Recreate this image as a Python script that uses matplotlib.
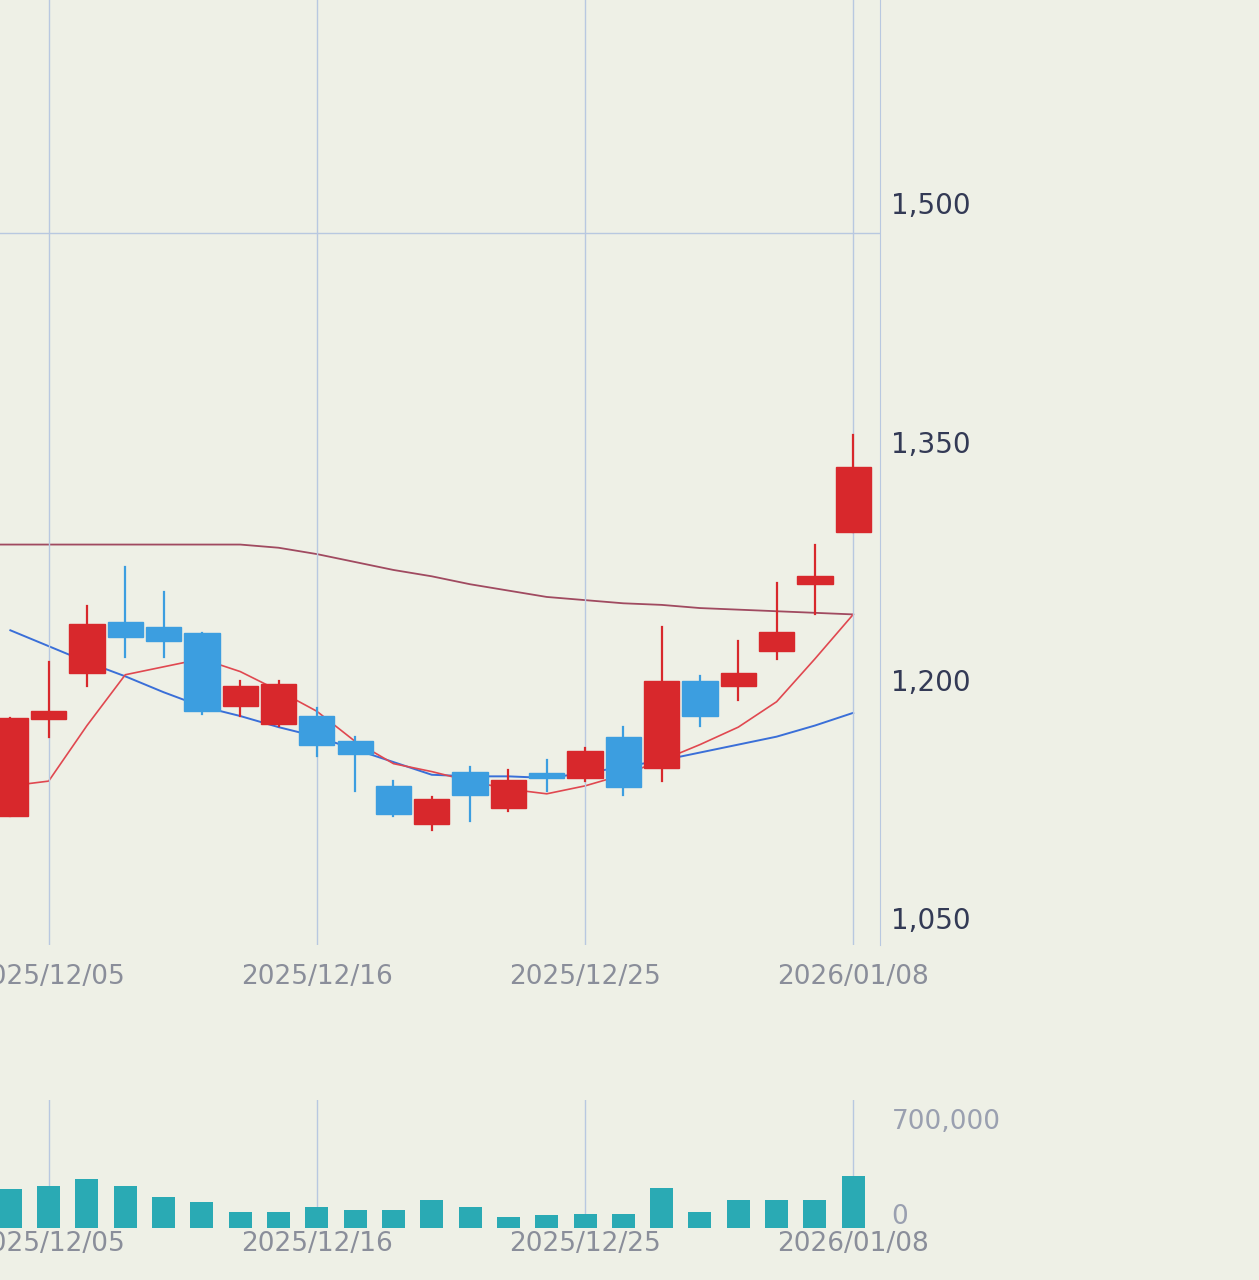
import matplotlib
matplotlib.use("Agg")
import matplotlib.pyplot as plt
from matplotlib.patches import Rectangle

dates = ["12/04","2025/12/05","12/08","12/09","12/10","12/11","12/12","12/15","2025/12/16","12/17","12/18","12/19","12/22","12/23","12/24","2025/12/25","12/26","12/29","12/30","01/05","01/06","01/07","2026/01/08"]
opens  = [1116,1177,1206,1238,1235,1231,1185,1174,1179,1163,1135,1111,1144,1121,1143,1140,1166,1146,1201,1198,1220,1262,1295]
closes = [1178,1182,1237,1229,1226,1182,1198,1199,1161,1155,1117,1127,1129,1139,1140,1157,1134,1201,1179,1206,1232,1267,1336]
highs  = [1178,1213,1248,1273,1257,1231,1201,1201,1184,1166,1138,1128,1147,1145,1151,1159,1172,1235,1204,1226,1263,1287,1356]
lows   = [1116,1166,1198,1216,1216,1180,1179,1173,1154,1132,1116,1107,1113,1119,1132,1138,1129,1138,1173,1189,1215,1243,1295]
ma_short = [1135,1138,1173,1205,1210,1215,1207,1195,1182,1163,1149,1144,1138,1133,1130,1135,1142,1151,1161,1172,1188,1215,1243]
ma_mid   = [1233,1223,1213,1204,1194,1185,1179,1172,1166,1158,1150,1142,1141,1141,1140,1143,1147,1151,1156,1161,1166,1173,1181]
ma_long  = [1287,1287,1287,1287,1287,1287,1287,1285,1281,1276,1271,1267,1262,1258,1254,1252,1250,1249,1247,1246,1245,1244,1243]
volumes  = [324000,350000,411000,350000,262000,219000,131000,131000,175000,149000,149000,236000,175000,88000,105000,114000,114000,333000,131000,236000,236000,236000,438000]
price_ticks = [1050,1200,1350,1500]
tick_idx = [1,8,15,22]

bg = "#eef0e6"
red = "#d8282c"; blue = "#3c9ee0"; teal = "#2aaab4"
fig = plt.figure(figsize=(12.59,12.8), dpi=100, facecolor=bg)
ax = fig.add_axes([0,0.262,0.699,0.738], facecolor=bg)
vx = fig.add_axes([0,0.041,0.699,0.10], facecolor=bg)

n = len(opens)
x = list(range(n))
for i in x:
    up = closes[i] >= opens[i]
    c = red if up else blue
    ax.plot([i,i],[lows[i],highs[i]], color=c, lw=1.6, zorder=3)
    lo, hi = min(opens[i],closes[i]), max(opens[i],closes[i])
    ax.add_patch(Rectangle((i-0.46,lo), 0.92, max(hi-lo,2.5), color=c, zorder=4))
ax.plot([-0.3]+x, [ma_long[0]]+ma_long, color="#a04a60", lw=1.3, zorder=2)
ax.plot(x, ma_mid, color="#3a6fd8", lw=1.4, zorder=2)
ax.plot(x, ma_short, color="#e04850", lw=1.2, zorder=2)
ax.set_xlim(-0.27, 22.7)
ax.set_ylim(1035, 1630)
ax.axhline(1483, color="#b8c8e0", lw=1)
for t in price_ticks:
    ax.text(1.013, t, f"{t:,}", transform=ax.get_yaxis_transform(), fontsize=20, color="#333a55", va="center", clip_on=False)
for i in tick_idx:
    ax.axvline(i, color="#b8c8e0", lw=1)
    ax.text(i, 1035-12, dates[i], ha="center", va="top", fontsize=19, color="#8a8e9a", clip_on=False)
ax.set_xticks([]); ax.set_yticks([])
for s in ax.spines.values(): s.set_visible(False)
ax.spines["right"].set_visible(True); ax.spines["right"].set_color("#b8c8e0")

vx.bar(x, volumes, width=0.6, color=teal)
vx.set_xlim(-0.27, 22.7)
vx.set_ylim(0, 1090000)
vx.text(1.013, 900000, "700,000", transform=vx.get_yaxis_transform(), fontsize=19, color="#9aa0b0", va="center", clip_on=False)
vx.text(1.013, 90000, "0", transform=vx.get_yaxis_transform(), fontsize=19, color="#9aa0b0", va="center", clip_on=False)
for i in tick_idx:
    vx.axvline(i, color="#b8c8e0", lw=1, zorder=0)
    vx.text(i, -30000, dates[i], ha="center", va="top", fontsize=19, color="#8a8e9a", clip_on=False)
vx.set_xticks([]); vx.set_yticks([])
for s in vx.spines.values(): s.set_visible(False)
fig.savefig("out.png", dpi=100, facecolor=bg)
